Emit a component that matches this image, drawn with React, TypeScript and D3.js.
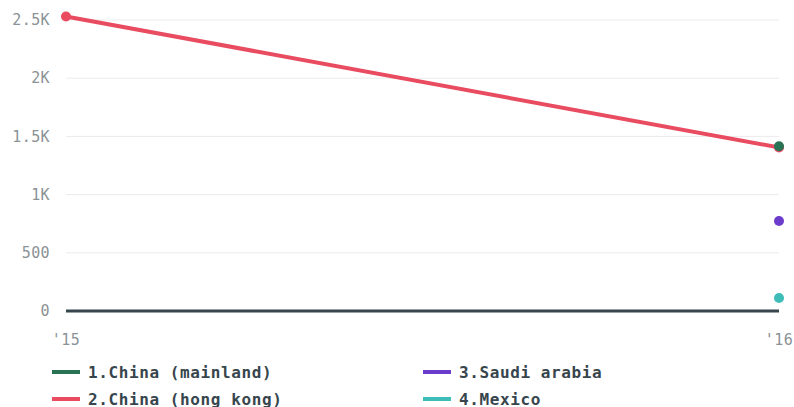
import * as d3 from 'd3';
import React from 'react';

const years = ["'15", "'16"];
const seriesNames = ['1.China (mainland)', '2.China (hong kong)', '3.Saudi arabia', '4.Mexico'];
const seriesColors = ['#2a7254', '#e94b60', '#6b3ccc', '#3ebcb8'];
// null = no value for that year
const chinaMainland = [null, 1415];
const chinaHongKong = [2530, 1405];
const saudiArabia = [null, 773];
const mexico = [null, 112];
const yTicks = [0, 500, 1000, 1500, 2000, 2500];
const yTickLabels = ['0', '500', '1K', '1.5K', '2K', '2.5K'];

const W = 794;
const H = 407;
const margin = { top: 20, right: 15, bottom: 96, left: 66 };
const font = '"DejaVu Sans Mono", "Liberation Mono", monospace';

const App = () => {
  const allSeries = [chinaMainland, chinaHongKong, saudiArabia, mexico];
  const xScale = d3
    .scalePoint<string>()
    .domain(years)
    .range([margin.left, W - margin.right]);
  const yScale = d3
    .scaleLinear()
    .domain([0, 2500])
    .range([H - margin.bottom, margin.top]);

  const line = d3
    .line<number | null>()
    .defined(d => d !== null)
    .x((_, i) => xScale(years[i]) as number)
    .y(d => yScale(d as number));

  // draw order: hong kong line under the others, dots on top
  const order = [1, 0, 2, 3];

  return (
    <div style={{ position: 'absolute', left: 0, top: 0 }}>
      <svg width={W} height={H} style={{ display: 'block' }}>
        {yTicks.map((t, i) => (
          <g key={t}>
            {t !== 0 && (
              <line
                x1={margin.left}
                x2={W - margin.right}
                y1={yScale(t)}
                y2={yScale(t)}
                stroke="#ebebeb"
                strokeWidth={1}
              />
            )}
            <text
              x={50}
              y={yScale(t)}
              dy="0.35em"
              textAnchor="end"
              fontFamily={font}
              fontSize={15}
              letterSpacing={0.4}
              fill="#8a9296"
            >
              {yTickLabels[i]}
            </text>
          </g>
        ))}
        <line
          x1={margin.left}
          x2={W - margin.right}
          y1={yScale(0)}
          y2={yScale(0)}
          stroke="#37454d"
          strokeWidth={3}
        />
        {years.map(y => (
          <text
            key={y}
            x={xScale(y)}
            y={345}
            textAnchor="middle"
            fontFamily={font}
            fontSize={15}
            letterSpacing={0.4}
            fill="#8a9296"
          >
            {y}
          </text>
        ))}
        {order.map(si => (
          <path
            key={'l' + si}
            d={line(allSeries[si]) || ''}
            fill="none"
            stroke={seriesColors[si]}
            strokeWidth={4}
          />
        ))}
        {order.map(si =>
          allSeries[si].map((v, i) =>
            v === null ? null : (
              <circle
                key={'c' + si + i}
                cx={xScale(years[i])}
                cy={yScale(v)}
                r={5}
                fill={seriesColors[si]}
              />
            )
          )
        )}
        {seriesNames.map((name, i) => {
          const col = Math.floor(i / 2);
          const row = i % 2;
          const x = col === 0 ? 52 : 423;
          const y = 372 + row * 27;
          return (
            <g key={name}>
              <line
                x1={x}
                x2={x + 28}
                y1={y}
                y2={y}
                stroke={seriesColors[i]}
                strokeWidth={4}
              />
              <text
                x={x + 36}
                y={y}
                dy="0.35em"
                fontFamily={font}
                fontSize={16}
                fontWeight="bold"
                letterSpacing={0.6}
                fill="#37454d"
              >
                {name}
              </text>
            </g>
          );
        })}
      </svg>
    </div>
  );
};

export default App;
